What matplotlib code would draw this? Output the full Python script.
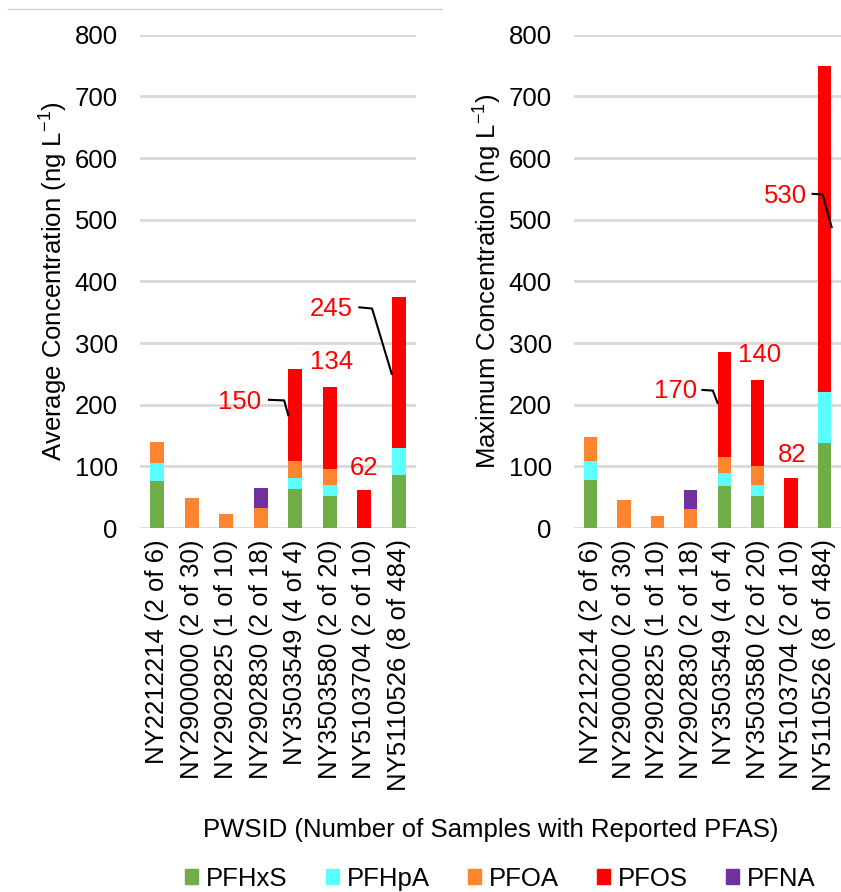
import matplotlib
matplotlib.use("Agg")
import matplotlib.pyplot as plt
from matplotlib.lines import Line2D
from matplotlib.patches import Patch

plt.rcParams['font.family'] = ['Liberation Sans', 'DejaVu Sans']

sites = ["NY2212214 (2 of 6)", "NY2900000 (2 of 30)", "NY2902825 (1 of 10)",
         "NY2902830 (2 of 18)", "NY3503549 (4 of 4)", "NY3503580 (2 of 20)",
         "NY5103704 (2 of 10)", "NY5110526 (8 of 484)"]
compounds = ["PFHxS", "PFHpA", "PFOA", "PFOS", "PFNA"]
colors = ["#70ad47", "#5cffff", "#fd8530", "#ff0000", "#7030a0"]

# average concentrations (ng/L)
avg_pfhxs = [76, 0, 0, 0, 63, 52, 0, 86]
avg_pfhpa = [30, 0, 0, 0, 19, 18, 0, 44]
avg_pfoa = [34, 48, 23, 33, 26, 25, 0, 0]
avg_pfos = [0, 0, 0, 0, 150, 134, 62, 245]
avg_pfna = [0, 0, 0, 32, 0, 0, 0, 0]

# maximum concentrations (ng/L)
max_pfhxs = [78, 0, 0, 0, 68, 52, 0, 138]
max_pfhpa = [30, 0, 0, 0, 21, 18, 0, 82]
max_pfoa = [40, 46, 19, 31, 26, 30, 0, 0]
max_pfos = [0, 0, 0, 0, 170, 140, 82, 530]
max_pfna = [0, 0, 0, 31, 0, 0, 0, 0]

avg_series = [avg_pfhxs, avg_pfhpa, avg_pfoa, avg_pfos, avg_pfna]
max_series = [max_pfhxs, max_pfhpa, max_pfoa, max_pfos, max_pfna]

FS = 18.5

fig = plt.figure(figsize=(8.41, 8.92), dpi=100)
ax1 = fig.add_axes([0.1665, 0.408, 0.328, 0.553])
ax2 = fig.add_axes([0.6825, 0.408, 0.3175, 0.553])

x = list(range(len(sites)))
for ax, series in [(ax1, avg_series), (ax2, max_series)]:
    bottom = [0] * len(sites)
    for vals, col in zip(series, colors):
        ax.bar(x, vals, width=0.4, bottom=bottom, color=col, zorder=3)
        bottom = [b + v for b, v in zip(bottom, vals)]
    ax.set_ylim(0, 800)
    ax.set_xlim(-0.5, 7.5)
    ax.set_yticks(range(0, 801, 100))
    ax.yaxis.grid(True, color="#d9d9d9", linewidth=2)
    ax.set_axisbelow(True)
    for s in ax.spines.values():
        s.set_visible(False)
    ax.tick_params(length=0, labelsize=FS, pad=16)
    ax.tick_params(axis='x', pad=8)
    ax.set_xticks(x)
    ax.set_xticklabels(sites, rotation=90)

ax1.set_ylabel("Average Concentration (ng L$^{\\mathregular{-1}}$)", fontsize=FS, labelpad=4)
ax2.set_ylabel("Maximum Concentration (ng L$^{\\mathregular{-1}}$)", fontsize=FS, labelpad=4)

# PFOS labels
def lab(ax, txt, tx, ty, line=None):
    ax.text(tx, ty, txt, color="red", fontsize=FS, ha="center", va="center", zorder=5)
    if line:
        xs, ys = zip(*line)
        ax.plot(xs, ys, color="black", linewidth=1.5, zorder=5, clip_on=False)

lab(ax1, str(avg_pfos[4]), 2.4, 205, [(3.24, 208), (3.68, 207), (3.8, 183)])
lab(ax1, str(avg_pfos[5]), 5.05, 270)
lab(ax1, str(avg_pfos[6]), 6.0, 97)
lab(ax1, str(avg_pfos[7]), 5.05, 356, [(5.86, 358), (6.23, 356), (6.8, 250)])
lab(ax2, str(max_pfos[4]), 2.55, 222, [(3.35, 224), (3.66, 223), (3.8, 203)])
lab(ax2, str(max_pfos[5]), 5.05, 281)
lab(ax2, str(max_pfos[6]), 6.05, 118)
lab(ax2, str(max_pfos[7]), 5.85, 539, [(6.65, 542), (6.95, 541), (7.22, 488)])

fig.text(0.583, 0.069, "PWSID (Number of Samples with Reported PFAS)", fontsize=FS,
         ha="center", va="center")

handles = [Patch(color=c) for c in colors]
fig.legend(handles, compounds, loc="center", bbox_to_anchor=(0.595, 0.015), ncol=5,
           frameon=False, fontsize=FS, handlelength=0.5, handleheight=0.5,
           handletextpad=0.3, columnspacing=1.5)

fig.add_artist(Line2D([0.01, 0.526], [0.99, 0.99], color="#d0d0d0", linewidth=1))

fig.savefig("out.png", dpi=100)
